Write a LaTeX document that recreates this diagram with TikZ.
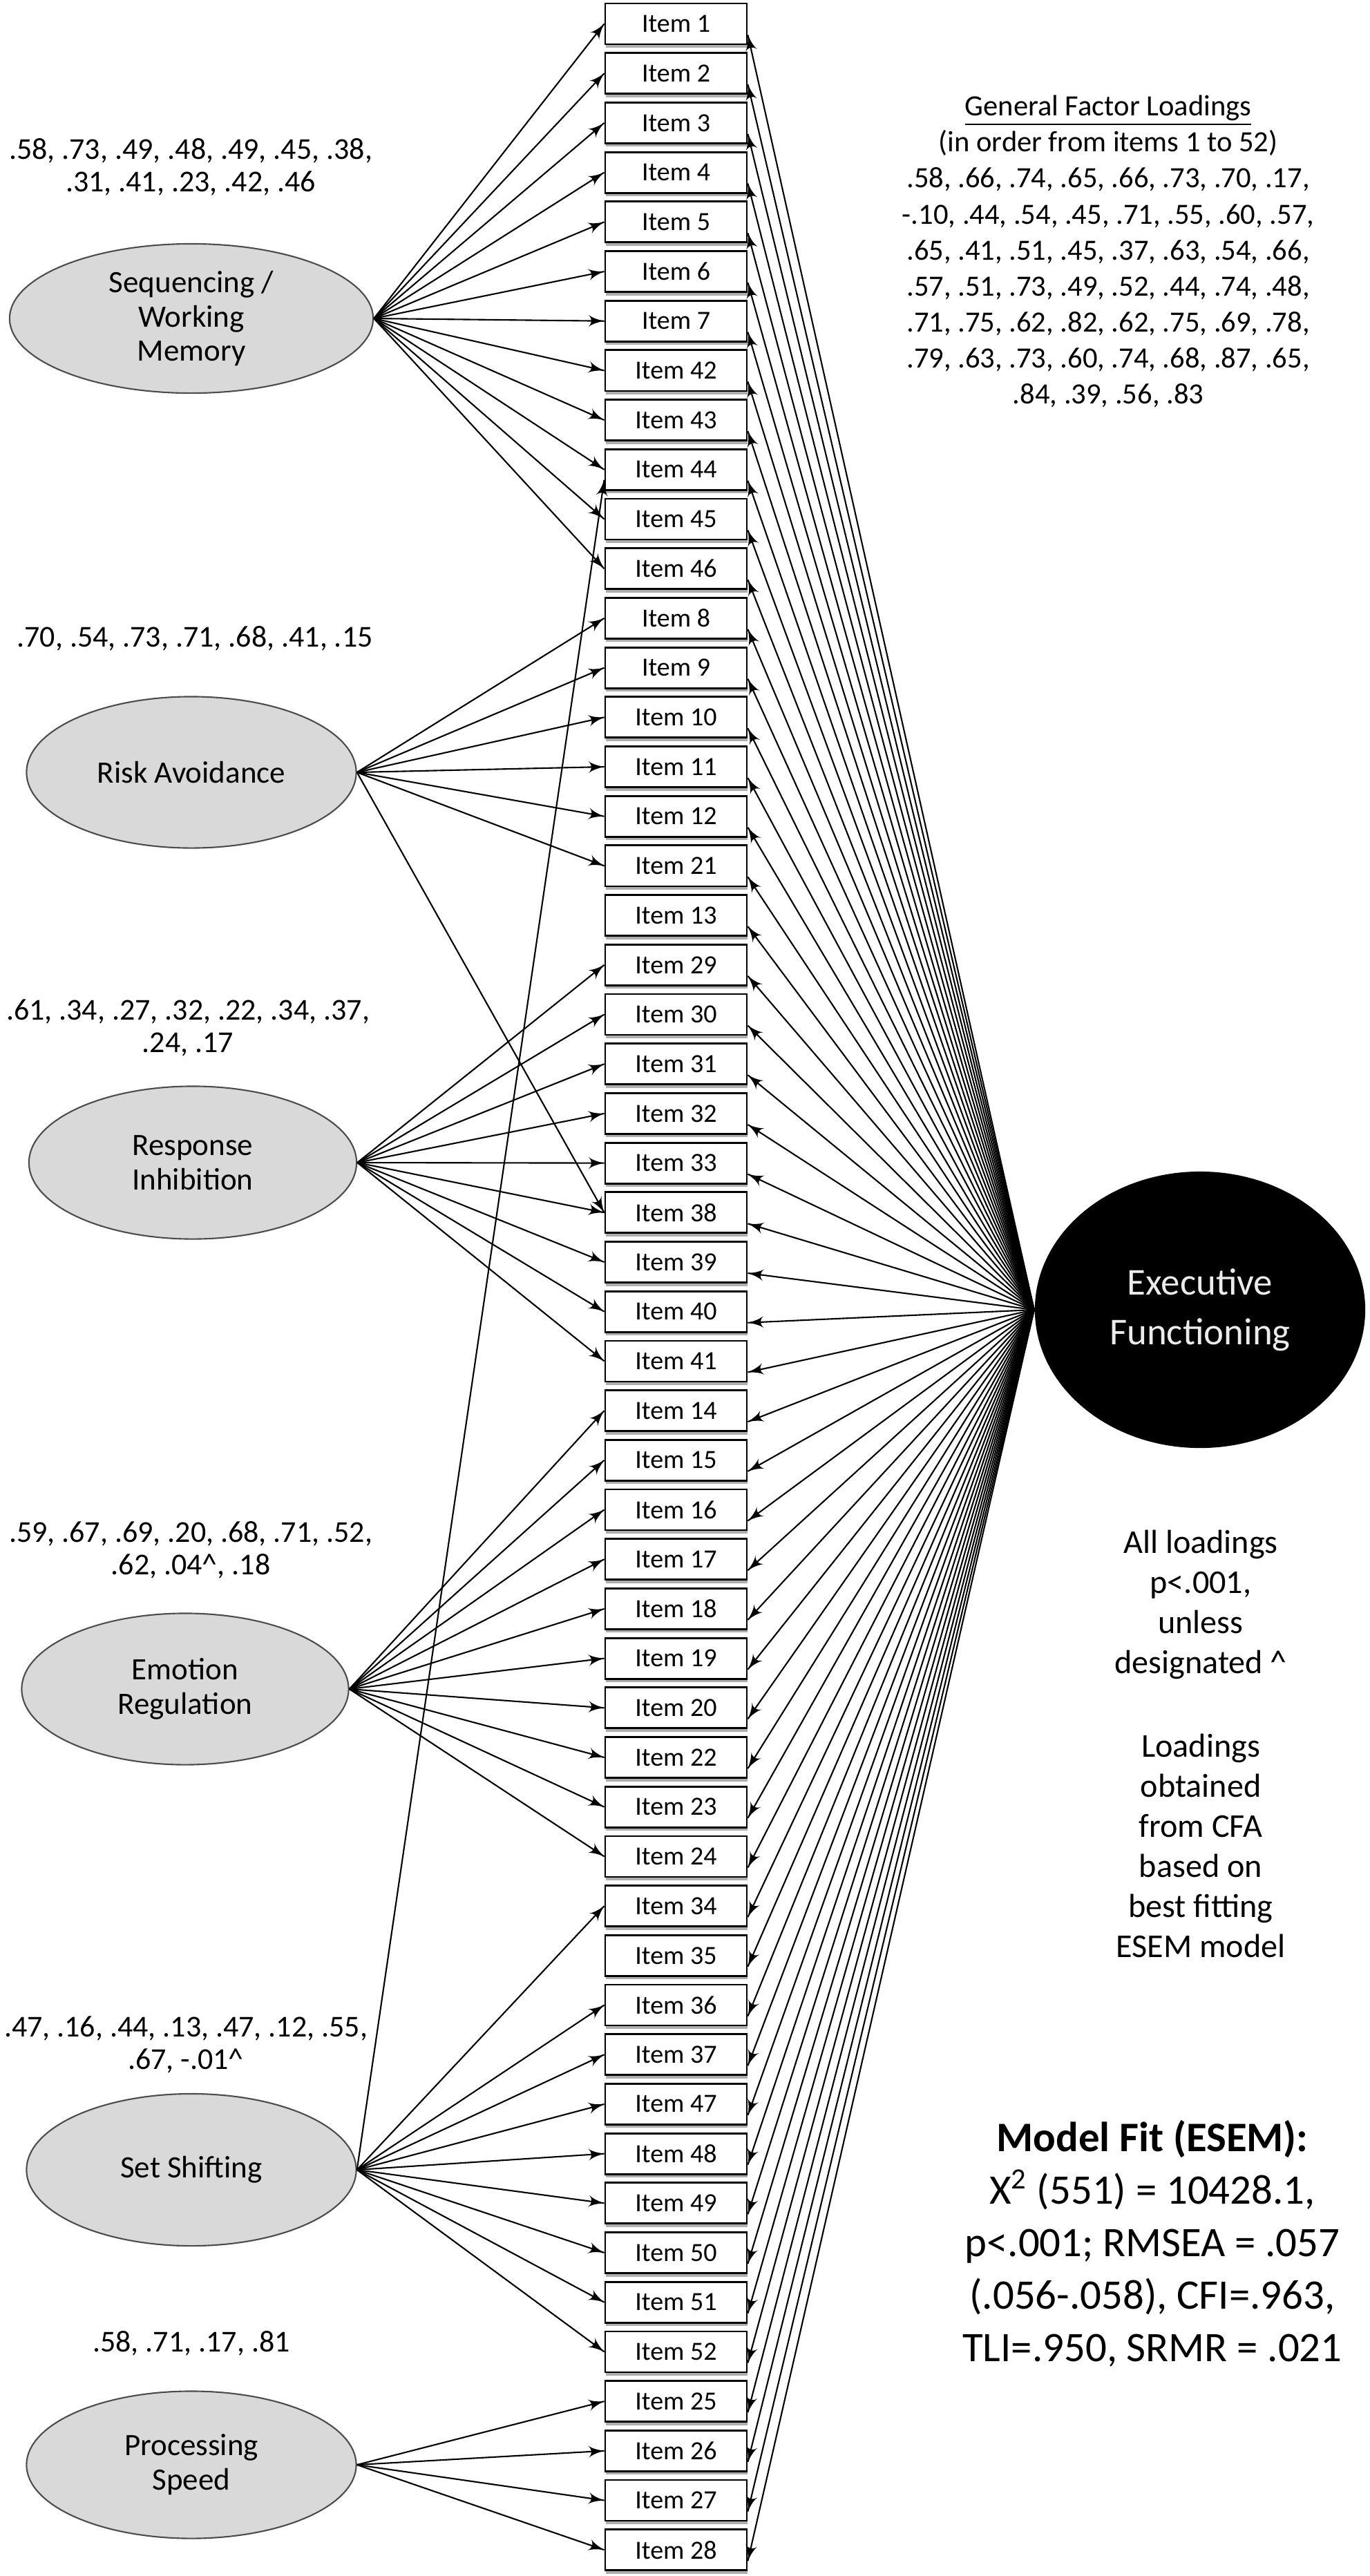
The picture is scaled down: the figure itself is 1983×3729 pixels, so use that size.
\documentclass[tikz,border=0pt]{standalone}
\usepackage{fontspec}
\setmainfont{Carlito}
\usepackage{tikz}
\usetikzlibrary{arrows}
\usetikzlibrary{decorations.markings}
\usetikzlibrary{positioning}
\usetikzlibrary{shapes.geometric}
\usetikzlibrary{shadows}
\tikzset{->/.style = {decoration={markings,
                                  mark=at position 1 with {\arrow[scale=1.4]{latex'}}},
                      postaction={decorate}}}
\tikzset{itembox/.style = {draw, line width = 0.8pt, fill = white, inner sep = 0,
                           minimum width = 2.05cm, minimum height = 0.59cm,
                           font = \fontsize{10.8pt}{12pt}\selectfont,
                           drop shadow = {shadow xshift = 0.01cm, shadow yshift = -0.05cm,
                                          fill = black!45, opacity = 0.7}}}
\tikzset{factor/.style = {ellipse, draw = black!70, line width = 0.6pt, fill = black!15,
                          inner sep = 0, align = center, minimum width = 4.77cm,
                          minimum height = 2.19cm, font = \fontsize{12.8pt}{14.2pt}\selectfont}}
\tikzset{loadtext/.style = {align = center, inner sep = 0,
                            font = \fontsize{12.5pt}{13.4pt}\selectfont}}
\tikzset{note/.style = {align = center, inner sep = 0,
                        font = \fontsize{13.7pt}{16.5pt}\selectfont}}

\begin{document}
\begin{tikzpicture}[x = 0.01cm, y = -0.01cm, line width = 0.6pt]
  \useasboundingbox (0, 0) rectangle (1983, 3729);

  \node [factor, minimum width = 5.26cm, minimum height = 2.16cm] (swm) at (277, 461) {Sequencing /\\ Working\\ Memory};
  \node [factor] (ra) at (277, 1118) {Risk Avoidance};
  \node [factor, minimum width = 4.74cm, minimum height = 2.21cm] (ri) at (279, 1683) {Response\\ Inhibition};
  \node [factor, minimum width = 4.73cm] (er) at (268, 2445) {Emotion\\ Regulation};
  \node [factor, minimum height = 2.2cm] (ss) at (277, 3141) {Set Shifting};
  \node [factor, minimum height = 2.13cm] (ps) at (277, 3568) {Processing\\ Speed};

  \node [loadtext] (swmload) at (276, 242) {.58, .73, .49, .48, .49, .45, .38,\\ .31, .41, .23, .42, .46};
  \node [loadtext] (raload) at (282, 924) {.70, .54, .73, .71, .68, .41, .15};
  \node [loadtext] (riload) at (272, 1488) {.61, .34, .27, .32, .22, .34, .37,\\ .24, .17};
  \node [loadtext] (erload) at (276, 2244) {.59, .67, .69, .20, .68, .71, .52,\\ .62, .04\textasciicircum, .18};
  \node [loadtext] (ssload) at (269, 2960) {.47, .16, .44, .13, .47, .12, .55,\\ .67, -.01\textasciicircum};
  \node [loadtext] (psload) at (277, 3392) {.58, .71, .17, .81};

  \foreach \n [count = \k from 0] in {1, 2, 3, 4, 5, 6, 7, 42, 43, 44, 45, 46, 8, 9, 10, 11, 12, 21, 13,
      29, 30, 31, 32, 33, 38, 39, 40, 41, 14, 15, 16, 17, 18, 19, 20, 22, 23, 24,
      34, 35, 36, 37, 47, 48, 49, 50, 51, 52, 25, 26, 27, 28}
    \node [itembox] (i\n) at (978.5, {34.5 + 71.7*\k}) {Item \n};

  \node [ellipse, fill, inner sep = 0, minimum width = 4.78cm, minimum height = 4cm,
         text = black!8, align = center, font = \fontsize{15.6pt}{20.5pt}\selectfont]
        (ef) at (1737, 1896) {Executive\\ Functioning};

  \node [align = center, inner sep = 0, font = \fontsize{12.1pt}{14.8pt}\selectfont] (gen) at (1604, 364)
        {\underline{General Factor Loadings}\\ (in order from items 1 to 52)\\
         .58, .66, .74, .65, .66, .73, .70, .17,\\ -.10, .44, .54, .45, .71, .55, .60, .57,\\
         .65, .41, .51, .45, .37, .63, .54, .66,\\ .57, .51, .73, .49, .52, .44, .74, .48,\\
         .71, .75, .62, .82, .62, .75, .69, .78,\\ .79, .63, .73, .60, .74, .68, .87, .65,\\
         .84, .39, .56, .83};
  \node [note] (sig) at (1738, 2323) {All loadings\\ p<.001,\\ unless\\ designated \textasciicircum};
  \node [note] (cfa) at (1738, 2672) {Loadings\\ obtained\\ from CFA\\ based on\\ best fitting\\ ESEM model};
  \node [align = center, inner sep = 0, font = \fontsize{17.3pt}{21.6pt}\selectfont] (fit) at (1668, 3248)
        {\textbf{Model Fit (ESEM):}\\ X\textsuperscript{2} (551) = 10428.1,\\ p<.001; RMSEA = .057\\
         (.056-.058), CFI=.963,\\ TLI=.950, SRMR = .021};

  \foreach \n in {1, 2, 3, 4, 5, 6, 7, 42, 43, 44, 45, 46}
    \draw [->] (swm.east) -- (i\n.west);
  \foreach \n in {8, 9, 10, 11, 12, 21, 38}
    \draw [->] (ra.east) -- (i\n.west);
  \foreach \n in {29, 30, 31, 32, 33, 38, 39, 40, 41}
    \draw [->] (ri.east) -- (i\n.west);
  \foreach \n in {14, 15, 16, 17, 18, 19, 20, 22, 23, 24}
    \draw [->] (er.east) -- (i\n.west);
  \foreach \n in {34, 36, 37, 47, 48, 49, 50, 51, 52}
    \draw [->] (ss.east) -- (i\n.west);
  \draw [->] (ss.east) -- ([yshift = -0.15cm]i44.west);
  \foreach \n in {25, 26, 27, 28}
    \draw [->] (ps.east) -- (i\n.west);

  \foreach \n in {1, ..., 52}
    \draw [->] (ef.west) -- ([yshift = -0.16cm]i\n.east);
\end{tikzpicture}
\end{document}
